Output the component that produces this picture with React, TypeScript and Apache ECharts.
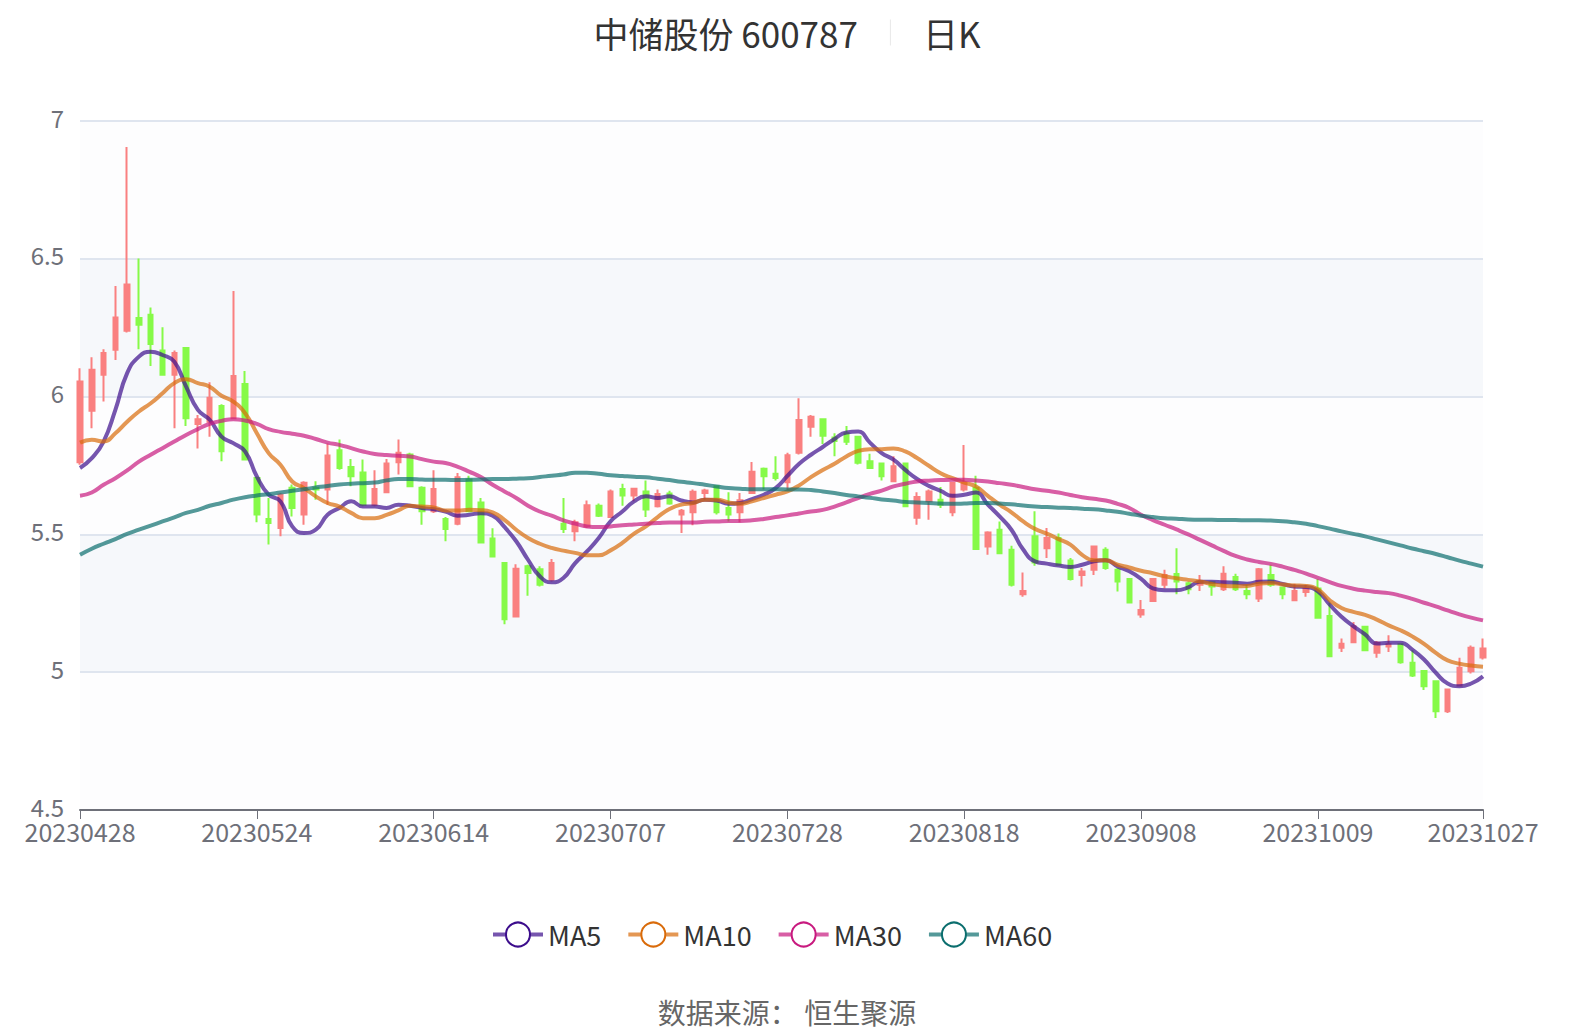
import React, { useEffect, useRef } from "react";
import * as echarts from "echarts";

const dates = [
  "20230428",
  "20230504","20230505","20230508","20230509","20230510","20230511","20230512","20230515","20230516","20230517",
  "20230518","20230519","20230522","20230523","20230524","20230525","20230526","20230529","20230530","20230531",
  "20230601","20230602","20230605","20230606","20230607","20230608","20230609","20230612","20230613","20230614",
  "20230615","20230616","20230619","20230620","20230621","20230626","20230627","20230628","20230629","20230630",
  "20230703","20230704","20230705","20230706","20230707","20230710","20230711","20230712","20230713","20230714",
  "20230717","20230718","20230719","20230720","20230721","20230724","20230725","20230726","20230727","20230728","20230731",
  "20230801","20230802","20230803","20230804","20230807","20230808","20230809","20230810","20230811","20230814",
  "20230815","20230816","20230817","20230818","20230821","20230822","20230823","20230824","20230825","20230828",
  "20230829","20230830","20230831",
  "20230901","20230904","20230905","20230906","20230907","20230908","20230911","20230912","20230913","20230914",
  "20230915","20230918","20230919","20230920","20230921","20230922","20230925","20230926","20230927","20230928",
  "20231009","20231010","20231011","20231012","20231013","20231016","20231017","20231018","20231019","20231020",
  "20231023","20231024","20231025","20231026","20231027",
];

const opens = [
  5.762, 5.949, 6.079, 6.170, 6.239, 6.285, 6.297, 6.167, 6.079, 6.176,
  5.901, 5.909, 5.966, 5.921, 6.046, 5.705, 5.556, 5.523, 5.669, 5.572,
  5.669, 5.663, 5.805, 5.745, 5.725, 5.608, 5.653, 5.762, 5.790, 5.669,
  5.584, 5.556, 5.539, 5.699, 5.616, 5.485, 5.396, 5.202, 5.384, 5.374,
  5.335, 5.539, 5.511, 5.529, 5.604, 5.563, 5.665, 5.641, 5.656, 5.602,
  5.648, 5.572, 5.580, 5.650, 5.675, 5.596, 5.580, 5.650, 5.738, 5.720,
  5.689, 5.796, 5.891, 5.918, 5.852, 5.867, 5.854, 5.765, 5.757, 5.693,
  5.757, 5.560, 5.620, 5.626, 5.580, 5.663, 5.669, 5.456, 5.517, 5.444,
  5.283, 5.493, 5.450, 5.487, 5.405, 5.353, 5.372, 5.444, 5.372, 5.338,
  5.209, 5.258, 5.317, 5.356, 5.323, 5.317, 5.326, 5.301, 5.345, 5.295,
  5.267, 5.353, 5.307, 5.261, 5.291, 5.304, 5.204, 5.089, 5.109, 5.165,
  5.071, 5.093, 5.101, 5.034, 5.004, 4.967, 4.858, 4.952, 5.003, 5.053,
];

const closes = [
  6.055, 6.097, 6.158, 6.287, 6.407, 6.261, 6.191, 6.079, 6.158, 5.921,
  5.918, 5.996, 5.802, 6.075, 5.772, 5.572, 5.541, 5.644, 5.596, 5.687,
  5.663, 5.786, 5.741, 5.711, 5.608, 5.665, 5.757, 5.796, 5.675, 5.584,
  5.665, 5.520, 5.707, 5.584, 5.471, 5.420, 5.192, 5.375, 5.360, 5.317,
  5.396, 5.520, 5.544, 5.606, 5.568, 5.656, 5.641, 5.666, 5.590, 5.647,
  5.612, 5.586, 5.655, 5.659, 5.580, 5.572, 5.624, 5.727, 5.711, 5.705,
  5.787, 5.915, 5.927, 5.858, 5.839, 5.836, 5.760, 5.741, 5.711, 5.747,
  5.602, 5.636, 5.656, 5.608, 5.687, 5.687, 5.447, 5.507, 5.432, 5.317,
  5.295, 5.398, 5.487, 5.390, 5.338, 5.365, 5.456, 5.378, 5.329, 5.253,
  5.226, 5.338, 5.353, 5.329, 5.301, 5.329, 5.311, 5.357, 5.301, 5.283,
  5.374, 5.317, 5.283, 5.295, 5.304, 5.198, 5.058, 5.103, 5.167, 5.080,
  5.107, 5.101, 5.036, 4.988, 4.949, 4.858, 4.937, 5.016, 5.089, 5.086,
];

const lows = [
  5.753, 5.885, 5.982, 6.133, 6.233, 6.172, 6.111, 6.079, 5.885, 5.893,
  5.812, 5.854, 5.765, 5.921, 5.772, 5.544, 5.463, 5.493, 5.565, 5.535,
  5.626, 5.608, 5.735, 5.675, 5.602, 5.602, 5.651, 5.717, 5.672, 5.535,
  5.578, 5.475, 5.533, 5.584, 5.471, 5.420, 5.174, 5.202, 5.277, 5.311,
  5.329, 5.505, 5.475, 5.523, 5.563, 5.560, 5.604, 5.620, 5.563, 5.598,
  5.608, 5.505, 5.533, 5.626, 5.572, 5.547, 5.544, 5.648, 5.663, 5.696,
  5.663, 5.790, 5.854, 5.828, 5.784, 5.824, 5.754, 5.739, 5.696, 5.690,
  5.600, 5.535, 5.553, 5.596, 5.566, 5.656, 5.444, 5.426, 5.432, 5.311,
  5.274, 5.386, 5.414, 5.390, 5.333, 5.311, 5.353, 5.372, 5.293, 5.253,
  5.198, 5.255, 5.304, 5.283, 5.283, 5.295, 5.277, 5.295, 5.295, 5.265,
  5.255, 5.310, 5.265, 5.259, 5.274, 5.194, 5.056, 5.073, 5.107, 5.077,
  5.052, 5.073, 5.031, 4.983, 4.935, 4.834, 4.852, 4.949, 4.995, 5.046,
];

const highs = [
  6.103, 6.143, 6.172, 6.401, 6.906, 6.501, 6.323, 6.252, 6.167, 6.176,
  5.933, 6.052, 5.972, 6.383, 6.093, 5.710, 5.632, 5.650, 5.681, 5.693,
  5.693, 5.830, 5.844, 5.774, 5.772, 5.733, 5.774, 5.844, 5.796, 5.675,
  5.733, 5.563, 5.723, 5.713, 5.632, 5.522, 5.396, 5.392, 5.390, 5.384,
  5.411, 5.632, 5.553, 5.623, 5.612, 5.663, 5.684, 5.668, 5.696, 5.663,
  5.658, 5.592, 5.663, 5.666, 5.675, 5.653, 5.650, 5.763, 5.743, 5.784,
  5.796, 5.994, 5.933, 5.921, 5.867, 5.893, 5.854, 5.793, 5.757, 5.784,
  5.757, 5.653, 5.663, 5.672, 5.689, 5.824, 5.713, 5.511, 5.547, 5.459,
  5.362, 5.584, 5.523, 5.503, 5.414, 5.378, 5.459, 5.453, 5.378, 5.341,
  5.262, 5.342, 5.372, 5.450, 5.329, 5.353, 5.329, 5.384, 5.357, 5.317,
  5.378, 5.390, 5.310, 5.321, 5.317, 5.338, 5.252, 5.122, 5.182, 5.167,
  5.113, 5.134, 5.101, 5.080, 5.007, 4.971, 4.940, 5.052, 5.097, 5.122,
];

const ma5 = [
  5.741, 5.777, 5.837, 5.952, 6.085, 6.145, 6.163, 6.151, 6.127, 6.036,
  5.952, 5.916, 5.855, 5.831, 5.801, 5.710, 5.644, 5.620, 5.529, 5.505,
  5.517, 5.571, 5.596, 5.620, 5.601, 5.601, 5.596, 5.608, 5.604, 5.596,
  5.591, 5.583, 5.568, 5.571, 5.577, 5.568, 5.527, 5.475, 5.408, 5.348,
  5.326, 5.342, 5.396, 5.438, 5.487, 5.547, 5.583, 5.620, 5.638, 5.632,
  5.638, 5.623, 5.616, 5.626, 5.623, 5.611, 5.614, 5.628, 5.644, 5.668,
  5.712, 5.756, 5.789, 5.817, 5.846, 5.870, 5.873, 5.833, 5.795, 5.771,
  5.734, 5.701, 5.676, 5.658, 5.640, 5.644, 5.652, 5.608, 5.565, 5.517,
  5.445, 5.402, 5.394, 5.387, 5.382, 5.390, 5.402, 5.406, 5.384, 5.366,
  5.339, 5.304, 5.297, 5.297, 5.308, 5.328, 5.328, 5.326, 5.325, 5.321,
  5.328, 5.329, 5.320, 5.311, 5.309, 5.293, 5.245, 5.201, 5.167, 5.137,
  5.104, 5.107, 5.107, 5.082, 5.046, 4.998, 4.959, 4.949, 4.959, 4.985,
];

const ma10 = [
  5.833, 5.843, 5.837, 5.867, 5.909, 5.946, 5.976, 6.012, 6.049, 6.063,
  6.049, 6.036, 6.003, 5.982, 5.940, 5.867, 5.795, 5.753, 5.692, 5.668,
  5.638, 5.614, 5.601, 5.578, 5.559, 5.559, 5.571, 5.587, 5.604, 5.601,
  5.598, 5.587, 5.587, 5.589, 5.588, 5.580, 5.553, 5.517, 5.487, 5.466,
  5.451, 5.441, 5.433, 5.424, 5.424, 5.442, 5.469, 5.503, 5.529, 5.563,
  5.592, 5.608, 5.614, 5.626, 5.626, 5.616, 5.611, 5.620, 5.632, 5.644,
  5.656, 5.678, 5.708, 5.734, 5.756, 5.783, 5.803, 5.809, 5.809, 5.812,
  5.801, 5.777, 5.749, 5.722, 5.704, 5.688, 5.674, 5.640, 5.608, 5.580,
  5.547, 5.520, 5.503, 5.483, 5.463, 5.426, 5.406, 5.406, 5.390, 5.380,
  5.368, 5.359, 5.348, 5.341, 5.335, 5.329, 5.320, 5.314, 5.312, 5.313,
  5.321, 5.324, 5.318, 5.315, 5.313, 5.300, 5.261, 5.233, 5.219, 5.208,
  5.191, 5.170, 5.152, 5.130, 5.103, 5.070, 5.043, 5.031, 5.024, 5.020,
];

const ma30 = [
  5.640, 5.652, 5.680, 5.704, 5.732, 5.764, 5.789, 5.813, 5.837, 5.861,
  5.882, 5.901, 5.912, 5.918, 5.913, 5.901, 5.882, 5.872, 5.865, 5.858,
  5.846, 5.833, 5.825, 5.813, 5.801, 5.792, 5.788, 5.785, 5.783, 5.773,
  5.764, 5.759, 5.746, 5.728, 5.708, 5.680, 5.656, 5.632, 5.604, 5.583,
  5.568, 5.551, 5.539, 5.529, 5.527, 5.529, 5.533, 5.536, 5.539, 5.541,
  5.543, 5.543, 5.543, 5.546, 5.547, 5.549, 5.549, 5.551, 5.556, 5.563,
  5.569, 5.576, 5.583, 5.589, 5.601, 5.616, 5.632, 5.647, 5.659, 5.674,
  5.684, 5.692, 5.695, 5.697, 5.698, 5.698, 5.696, 5.692, 5.686, 5.680,
  5.672, 5.664, 5.658, 5.652, 5.643, 5.635, 5.629, 5.623, 5.611, 5.596,
  5.571, 5.552, 5.535, 5.518, 5.500, 5.480, 5.460, 5.440, 5.422, 5.409,
  5.400, 5.393, 5.383, 5.371, 5.358, 5.342, 5.327, 5.313, 5.303, 5.296,
  5.291, 5.287, 5.278, 5.266, 5.252, 5.239, 5.224, 5.210, 5.198, 5.188,
];

const ma60 = [
  5.426, 5.448, 5.466, 5.483, 5.502, 5.517, 5.532, 5.547, 5.562, 5.578,
  5.589, 5.604, 5.614, 5.626, 5.635, 5.641, 5.646, 5.652, 5.658, 5.664,
  5.670, 5.676, 5.681, 5.684, 5.686, 5.688, 5.696, 5.701, 5.701, 5.699,
  5.698, 5.698, 5.697, 5.698, 5.699, 5.701, 5.701, 5.702, 5.704, 5.708,
  5.713, 5.717, 5.724, 5.724, 5.720, 5.715, 5.712, 5.709, 5.707, 5.702,
  5.697, 5.691, 5.686, 5.680, 5.674, 5.668, 5.666, 5.664, 5.664, 5.664,
  5.663, 5.663, 5.661, 5.656, 5.650, 5.643, 5.638, 5.633, 5.627, 5.623,
  5.618, 5.616, 5.614, 5.612, 5.611, 5.612, 5.614, 5.614, 5.612, 5.609,
  5.605, 5.601, 5.599, 5.597, 5.596, 5.593, 5.591, 5.587, 5.582, 5.575,
  5.568, 5.563, 5.559, 5.557, 5.554, 5.553, 5.553, 5.552, 5.552, 5.551,
  5.551, 5.550, 5.548, 5.544, 5.539, 5.530, 5.521, 5.511, 5.502, 5.493,
  5.482, 5.471, 5.460, 5.449, 5.439, 5.429, 5.417, 5.405, 5.394, 5.383,
];

const maNames = ["MA5", "MA10", "MA30", "MA60"];
const maSeries = [ma5, ma10, ma30, ma60];
const maColors = ["#3c0d8c", "#d96b0a", "#c81a7f", "#0b6e6e"];

const FONT = "'Noto Sans CJK SC', 'Noto Sans', sans-serif";

export default function App() {
  const ref = useRef<HTMLDivElement>(null);
  useEffect(() => {
    document.body.style.margin = "0";
    const chart = echarts.init(ref.current as HTMLDivElement, null, { renderer: "svg" });
    const candles = dates.map((_, i) => [opens[i], closes[i], lows[i], highs[i]]);
    const showIdx = (i: number) => i % 15 === 0 || i === dates.length - 1;
    chart.setOption({
      animation: false,
      backgroundColor: "#ffffff",
      textStyle: { fontFamily: FONT },
      title: [
        {
          left: "center",
          top: 10,
          text: "{t|中储股份 600787}{g| }{s| }{g| }{t|日K}",
          textStyle: {
            fontWeight: "normal",
            rich: {
              t: { fontSize: 35, color: "#333333", fontFamily: FONT, fontWeight: "normal" },
              g: { width: 32, fontSize: 20 },
              s: { width: 1, height: 26, backgroundColor: "#e8e8e8", fontSize: 10 },
            },
          },
        },
        {
          left: "center",
          top: 993,
          text: "数据来源： 恒生聚源",
          textStyle: { fontSize: 28, color: "#666666", fontWeight: "normal", fontFamily: FONT },
        },
      ],
      legend: {
        top: 916,
        left: 486,
        data: maNames,
        itemWidth: 50,
        itemHeight: 30,
        itemGap: 25,
        lineStyle: { width: 4 },
        itemStyle: { borderWidth: 3 },
        textStyle: { fontSize: 27, color: "#333333", fontFamily: FONT },
      },
      grid: { left: 80, right: 91, top: 121, bottom: 224, containLabel: false },
      xAxis: {
        type: "category",
        data: dates,
        boundaryGap: false,
        axisLine: { lineStyle: { color: "#6e7079", width: 2 } },
        axisTick: { show: true, interval: (i: number) => showIdx(i), length: 9, lineStyle: { color: "#6e7079" } },
        axisLabel: {
          interval: (i: number) => showIdx(i),
          fontSize: 25,
          color: "#6e7079",
          margin: 8,
          fontFamily: FONT,
        },
        splitLine: { show: false },
      },
      yAxis: {
        type: "value",
        min: 4.5,
        max: 7,
        interval: 0.5,
        scale: true,
        axisLine: { show: false },
        axisTick: { show: false },
        axisLabel: {
          fontSize: 24,
          color: "#6e7079",
          margin: 16,
          fontFamily: FONT,
          formatter: "{a|{value}}",
          rich: { a: { fontSize: 24, color: "#6e7079", fontFamily: FONT, padding: [0, 0, 8, 0] } },
        },
        splitLine: { lineStyle: { color: "#dfe5ef", width: 2 } },
        splitArea: { show: true, areaStyle: { color: ["#fdfdfe", "#f6f8fb"] } },
      },
      series: [
        {
          type: "candlestick",
          name: "日K",
          data: candles,
          barWidth: 5,
          clip: false,
          itemStyle: {
            color: "#fa8080",
            color0: "#86fa48",
            borderColor: "#fa8080",
            borderColor0: "#86fa48",
            borderWidth: 2,
          },
        },
        ...maSeries.map((arr, k) => ({
          type: "line",
          name: maNames[k],
          data: arr,
          smooth: true,
          showSymbol: false,
          symbol: "emptyCircle",
          itemStyle: { color: maColors[k] },
          lineStyle: { color: maColors[k], width: 4, opacity: 0.7 },
          z: 3,
        })),
      ],
    });
    return () => chart.dispose();
  }, []);
  return (
    <div
      ref={ref}
      style={{ position: "absolute", left: 0, top: 0, width: 1574, height: 1034 }}
    />
  );
}
